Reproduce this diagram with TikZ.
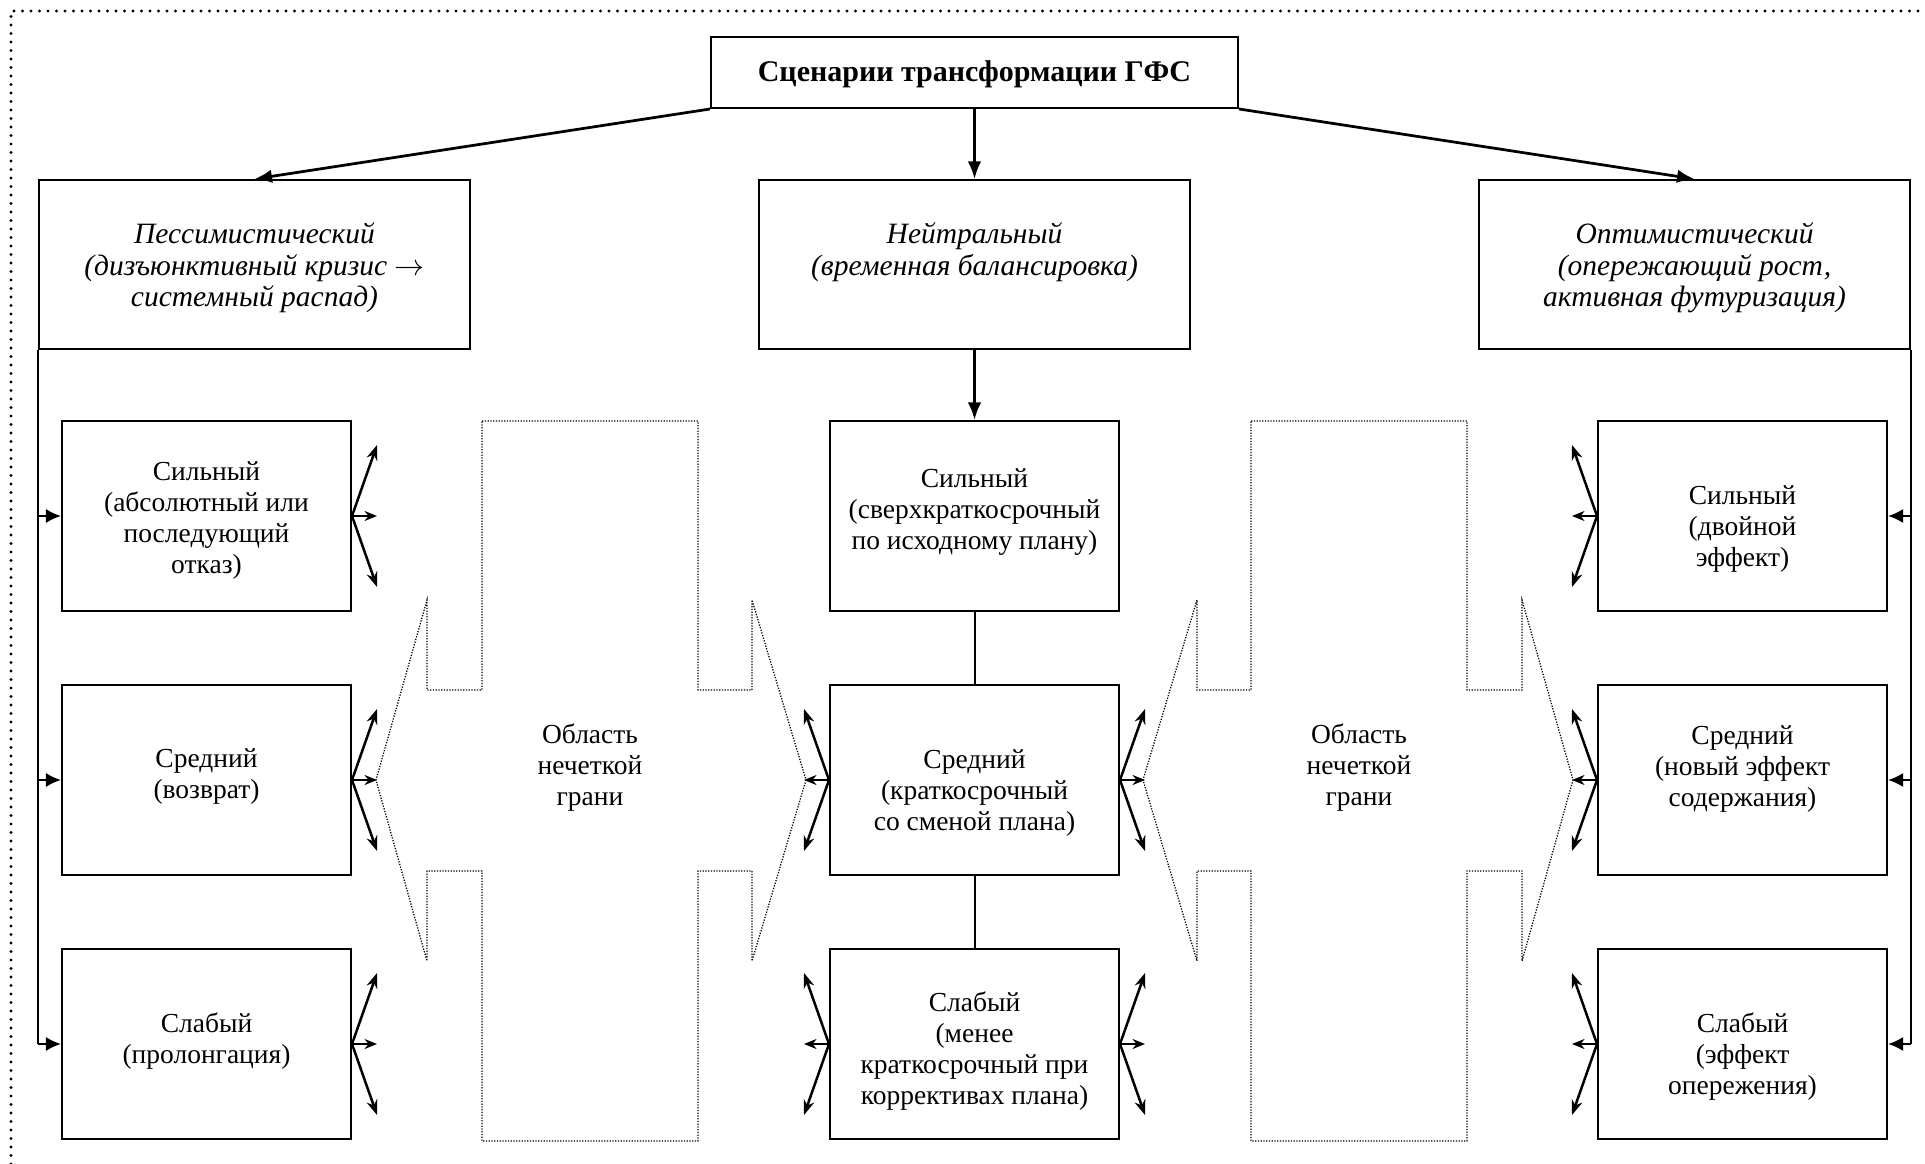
\documentclass[tikz,border=0pt]{standalone}
\usepackage{fontspec}
\setmainfont{Liberation Serif}
\usetikzlibrary{arrows.meta}
\begin{document}
\begin{tikzpicture}[x=0.4pt,y=-0.4pt,
  box/.style={draw, line width=0.8pt, inner sep=0pt},
  l2/.style={box, minimum width=172.4pt, minimum height=67.6pt},
  l3/.style={box, minimum width=115.6pt, minimum height=76pt},
  txt/.style={align=center, inner sep=0pt, font=\fontsize{11}{12.4}\selectfont},
  itxt/.style={align=center, inner sep=0pt, font=\fontsize{11.8}{12.6}\selectfont\itshape},
  conn/.style={line width=0.8pt},
  bus/.style={line width=0.8pt, -{Latex[length=6pt,width=5.6pt]}},
  bigarrow/.style={line width=1.1pt, -{Latex[length=7pt,width=5.4pt]}},
  fan/.style={line width=1pt, -{Stealth[length=6pt,width=4.4pt]}},
  fanh/.style={line width=1pt, -{Stealth[length=5pt,width=4pt]}},
  fuzzy/.style={line width=0.5pt, dash pattern=on 0.5pt off 0.6pt},
  frame/.style={line width=1.3pt, dash pattern=on 0pt off 3.4pt, line cap=round}]
\useasboundingbox (0,0) rectangle (1925,1164);
% frame (top and left only)
\coordinate (fr) at (11,11);
\draw[frame] (11,1164) -- (fr) -- (1925,11);

% title
\node[box, minimum width=210.8pt, minimum height=28.4pt] (title) at (974.5,72.5) {};
\node[txt, font=\fontsize{12}{13.6}\selectfont\bfseries] (titletxt) at (974.5,74) {Сценарии трансформации ГФС};

% level 2
\node[l2] (pess) at (254.5,264.5) {};
\node[l2] (neut) at (974.5,264.5) {};
\node[l2] (opt) at (1694.5,264.5) {};
\node[itxt] (pesst) at (254.5,268) {Пессимистический\\(дизъюнктивный кризис $\rightarrow$\\системный распад)};
\node[itxt] (neutt) at (974.5,252) {Нейтральный\\(временная балансировка)};
\node[itxt] (optt) at (1694.5,268) {Оптимистический\\(опережающий рост,\\активная футуризация)};

% level 3 boxes
\node[l3] (ls) at (206.5,516) {};
\node[l3] (lm) at (206.5,780) {};
\node[l3] (lw) at (206.5,1044) {};
\node[l3] (ms) at (974.5,516) {};
\node[l3] (mm) at (974.5,780) {};
\node[l3] (mw) at (974.5,1044) {};
\node[l3] (rs) at (1742.5,516) {};
\node[l3] (rm) at (1742.5,780) {};
\node[l3] (rw) at (1742.5,1044) {};

\node[txt] (lst) at (206.5,521) {Сильный\\(абсолютный или\\последующий\\отказ)};
\node[txt] (lmt) at (206.5,777) {Средний\\(возврат)};
\node[txt] (lwt) at (206.5,1041) {Слабый\\(пролонгация)};
\node[txt] (mst) at (974.5,512) {Сильный\\(сверхкраткосрочный\\по исходному плану)};
\node[txt] (mmt) at (974.5,793) {Средний\\(краткосрочный\\со сменой плана)};
\node[txt] (mwt) at (974.5,1051) {Слабый\\(менее\\краткосрочный при\\коррективах плана)};
\node[txt] (rst) at (1742.5,529) {Сильный\\(двойной\\эффект)};
\node[txt] (rmt) at (1742.5,769) {Средний\\(новый эффект\\содержания)};
\node[txt] (rwt) at (1742.5,1057) {Слабый\\(эффект\\опережения)};

% fuzzy regions
\draw[fuzzy] (482,421) -- (698,421) -- (698,690) -- (752,690) -- (752,600) -- (806,780)
  -- (752,961) -- (752,871) -- (698,871) -- (698,1141) -- (482,1141) -- (482,871)
  -- (427,871) -- (427,961) -- (376,780) -- (427,600) -- (427,690) -- (482,690) -- cycle;
\draw[fuzzy] (1251,421) -- (1467,421) -- (1467,690) -- (1522,690) -- (1522,600) -- (1573,780)
  -- (1522,961) -- (1522,871) -- (1467,871) -- (1467,1141) -- (1251,1141) -- (1251,871)
  -- (1197,871) -- (1197,961) -- (1143,780) -- (1197,600) -- (1197,690) -- (1251,690) -- cycle;
\node[txt] (fz1) at (590,768) {Область\\нечеткой\\грани};
\node[txt] (fz2) at (1359,768) {Область\\нечеткой\\грани};

% top arrows
\draw[bigarrow] (title.south west) -- (pess.north);
\draw[bigarrow] (title.south) -- (neut.north);
\draw[bigarrow] (title.south east) -- (opt.north);
\draw[bigarrow] (neut.south) -- (ms.north);
\draw[conn] (ms.south) -- (mm.north);
\draw[conn] (mm.south) -- (mw.north);

% buses
\draw[conn] (pess.south west) -- (pess.south west |- lw.west);
\draw[bus] (pess.south west |- ls.west) -- (ls.west);
\draw[bus] (pess.south west |- lm.west) -- (lm.west);
\draw[bus] (pess.south west |- lw.west) -- (lw.west);
\draw[conn] (opt.south east) -- (opt.south east |- rw.east);
\draw[bus] (opt.south east |- rs.east) -- (rs.east);
\draw[bus] (opt.south east |- rm.east) -- (rm.east);
\draw[bus] (opt.south east |- rw.east) -- (rw.east);

% fans
\foreach \n in {ls,lm,lw,mm,mw}{
  \draw[fan] (\n.east) -- ++(25,-71);
  \draw[fanh] (\n.east) -- ++(25,0);
  \draw[fan] (\n.east) -- ++(25,71);
}
\foreach \n in {mm,mw,rs,rm,rw}{
  \draw[fan] (\n.west) -- ++(-25,-71);
  \draw[fanh] (\n.west) -- ++(-25,0);
  \draw[fan] (\n.west) -- ++(-25,71);
}
\end{tikzpicture}
\end{document}
